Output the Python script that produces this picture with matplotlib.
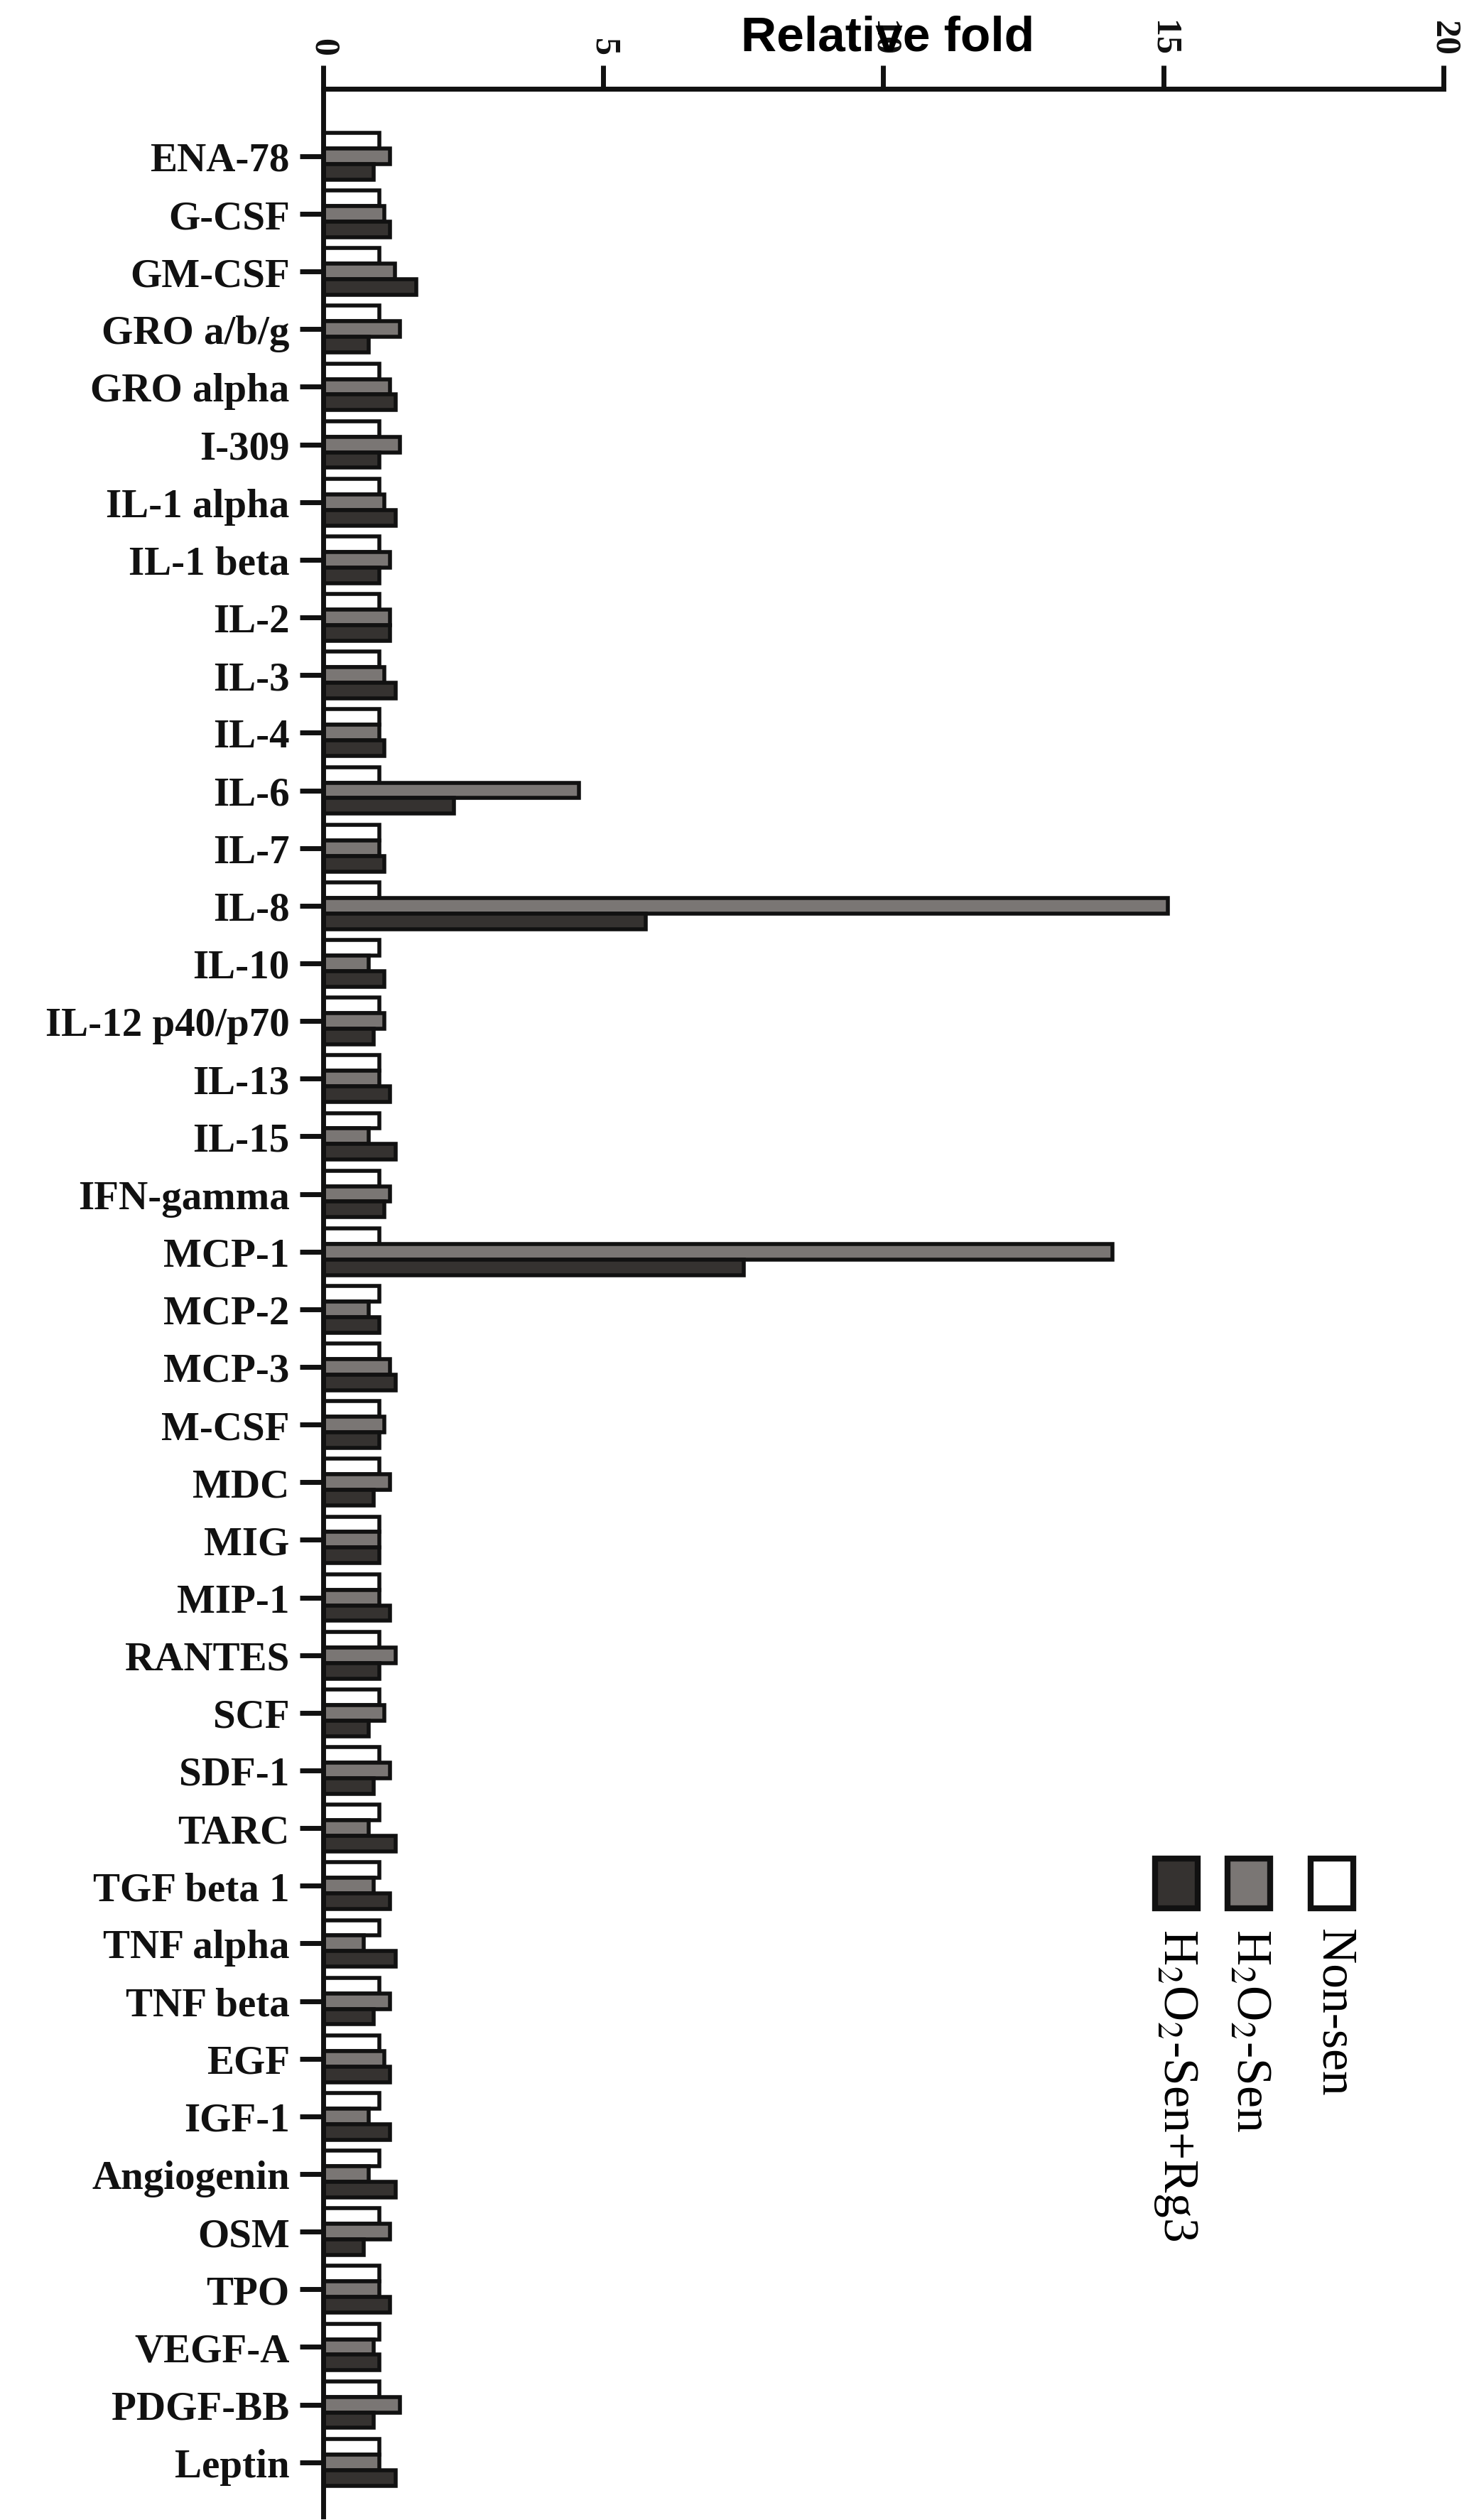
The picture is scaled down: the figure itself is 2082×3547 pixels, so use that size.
import numpy as np
import matplotlib
matplotlib.use("Agg")
import matplotlib.pyplot as plt
from matplotlib.patches import Rectangle

categories = ["ENA-78", "G-CSF", "GM-CSF", "GRO a/b/g", "GRO alpha", "I-309",
              "IL-1 alpha", "IL-1 beta", "IL-2", "IL-3", "IL-4", "IL-6", "IL-7",
              "IL-8", "IL-10", "IL-12 p40/p70", "IL-13", "IL-15", "IFN-gamma",
              "MCP-1", "MCP-2", "MCP-3", "M-CSF", "MDC", "MIG", "MIP-1", "RANTES",
              "SCF", "SDF-1", "TARC", "TGF beta 1", "TNF alpha", "TNF beta", "EGF",
              "IGF-1", "Angiogenin", "OSM", "TPO", "VEGF-A", "PDGF-BB", "Leptin"]
non_sen = [1.0] * len(categories)
h2o2_sen = [1.19, 1.09, 1.28, 1.37, 1.19, 1.37, 1.09, 1.19, 1.19, 1.09, 1.0,
            4.57, 1.0, 15.08, 0.81, 1.09, 1.0, 0.81, 1.19, 14.09, 0.81, 1.19,
            1.09, 1.19, 1.0, 1.0, 1.29, 1.09, 1.19, 0.81, 0.9, 0.72, 1.19, 1.09,
            0.81, 0.81, 1.19, 1.0, 0.9, 1.37, 1.0]
h2o2_rg3 = [0.9, 1.19, 1.66, 0.81, 1.29, 1.0, 1.29, 1.0, 1.19, 1.29, 1.09,
            2.33, 1.09, 5.76, 1.09, 0.9, 1.19, 1.29, 1.09, 7.51, 1.0, 1.29,
            1.0, 0.9, 1.0, 1.19, 1.0, 0.81, 0.9, 1.29, 1.19, 1.29, 0.9, 1.19,
            1.19, 1.29, 0.72, 1.19, 1.0, 0.9, 1.29]
x_ticks = [0, 5, 10, 15, 20]

colors = ["white", "#7a7674", "#353230"]
serif = ["Liberation Serif", "DejaVu Serif"]
plt.rcParams["mathtext.fontset"] = "stix"

W, H = 2082, 3548
fig = plt.figure(figsize=(W / 100, H / 100), dpi=100)
ax = fig.add_axes([0.2185, 0.0014, 0.7575, 0.9631])

y = np.arange(len(categories))
bh = 0.27
for k, vals in enumerate([non_sen, h2o2_sen, h2o2_rg3]):
    ax.barh(y + (k - 1) * bh, vals, height=bh, color=colors[k],
            edgecolor="#111111", linewidth=4)

ax.set_ylim(len(categories) - 1 + 0.94, -1.17)
ax.set_xlim(0, 20)
ax.xaxis.tick_top()
ax.set_xticks(x_ticks)
ax.set_xticklabels([str(t) for t in x_ticks], rotation=270,
                   fontsize=36, fontweight="bold", family=serif)
ax.set_yticks(y)
ax.set_yticklabels(categories, fontsize=41, fontweight="bold", family=serif)
ax.tick_params(axis="both", width=5, length=24, colors="#111111", pad=10)
for s in ["right", "bottom"]:
    ax.spines[s].set_visible(False)
for s in ["left", "top"]:
    ax.spines[s].set_linewidth(5)
    ax.spines[s].set_color("#111111")
ax.spines["top"].set_bounds(0, 20)

fig.text(0.6, 0.985, "Relative fold", ha="center", va="center",
         fontsize=50, fontweight="bold",
         family=["Liberation Sans Narrow", "Liberation Sans", "DejaVu Sans"])

# legend drawn by hand (rotated layout)
labels = ["Non-sen", r"H$_2$O$_2$-Sen", r"H$_2$O$_2$-Sen+Rg3"]
sq_x = [1845, 1728, 1626]
text_x = [1877, 1758, 1655]
for k in range(3):
    fig.patches.append(Rectangle((sq_x[k] / W, 1 - 2687 / H), 60 / W, 70 / H,
                                 transform=fig.transFigure, facecolor=colors[k],
                                 edgecolor="#111111", linewidth=6))
    fig.text(text_x[k] / W, 1 - 2715 / H, labels[k], rotation=270, ha="center",
             va="top", fontsize=50, family=serif)

fig.savefig("out.png", dpi=100, facecolor="white")
